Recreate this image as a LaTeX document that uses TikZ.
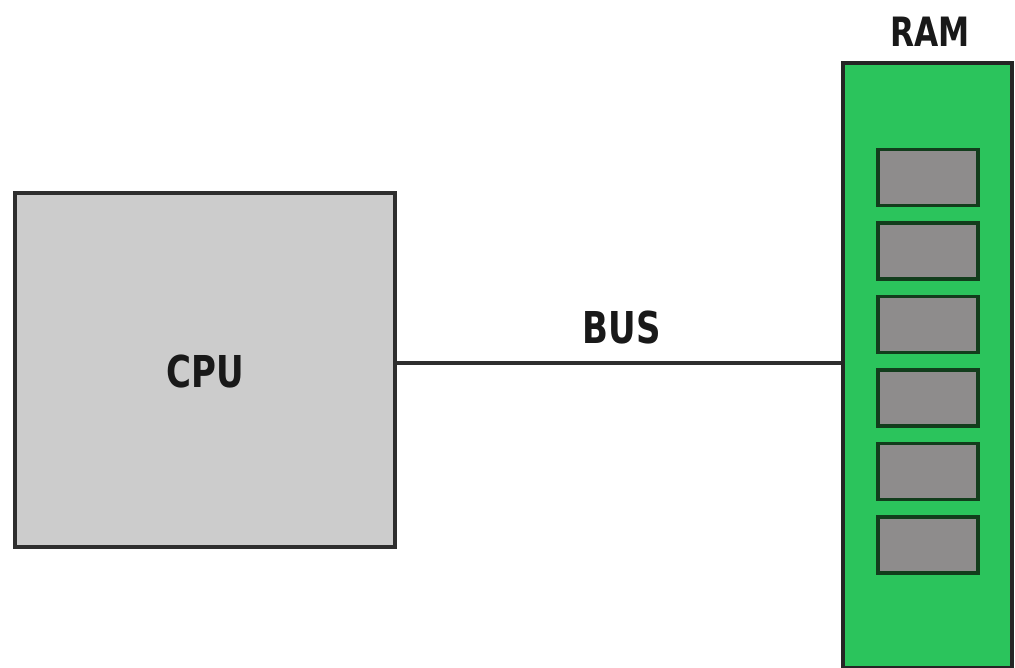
\documentclass[tikz,border=0pt]{standalone}
\usepackage{fontspec}
\setmainfont{DejaVu Sans Condensed}[BoldFont={DejaVu Sans Condensed Bold}]
\usepackage{tikz}
\usetikzlibrary{positioning}
\definecolor{cpugray}{HTML}{CCCCCC}
\definecolor{ramgreen}{HTML}{2BC45C}
\definecolor{slotgray}{HTML}{8E8C8C}
\definecolor{slotedge}{HTML}{123D1C}
\definecolor{edge}{HTML}{2E2E2E}
\newcommand{\narrow}[1]{\scalebox{0.86}[1]{#1}}

\begin{document}
\begin{tikzpicture}[x=0.02cm,y=-0.02cm,
    unit/.style={draw=edge,line width=2.2pt,inner sep=0pt},
    slot/.style={draw=slotedge,fill=slotgray,line width=2pt,minimum width=2cm,minimum height=1.12cm,inner sep=0pt},
    lbl/.style={font=\bfseries\fontsize{25}{25}\selectfont,text=black!90}]
  \useasboundingbox (0,0) rectangle (1015,668);
  \node[unit,fill=cpugray,minimum width=7.6cm,minimum height=7.08cm] (cpu) at (205,370) {};
  \node[lbl] at (205,372) {\narrow{CPU}};
  \node[unit,draw=edge!80!black,fill=ramgreen,minimum width=3.38cm,minimum height=12.1cm] (ram) at (927.5,365.5) {};
  \node[lbl,font=\bfseries\fontsize{23}{23}\selectfont] (ramlbl) at (930,32) {\narrow{RAM}};
  \foreach \i in {0,...,5}
    \node[slot] (slot\i) at (928,{177.5+73.5*\i}) {};
  \coordinate (bus0) at ([yshift=0.14cm]cpu.east);
  \draw[edge,line width=2pt] (bus0) -- (bus0 -| ram.west) node[midway,above=0.22cm,lbl,xshift=0.05cm] {\narrow{BUS}};
\end{tikzpicture}
\end{document}
